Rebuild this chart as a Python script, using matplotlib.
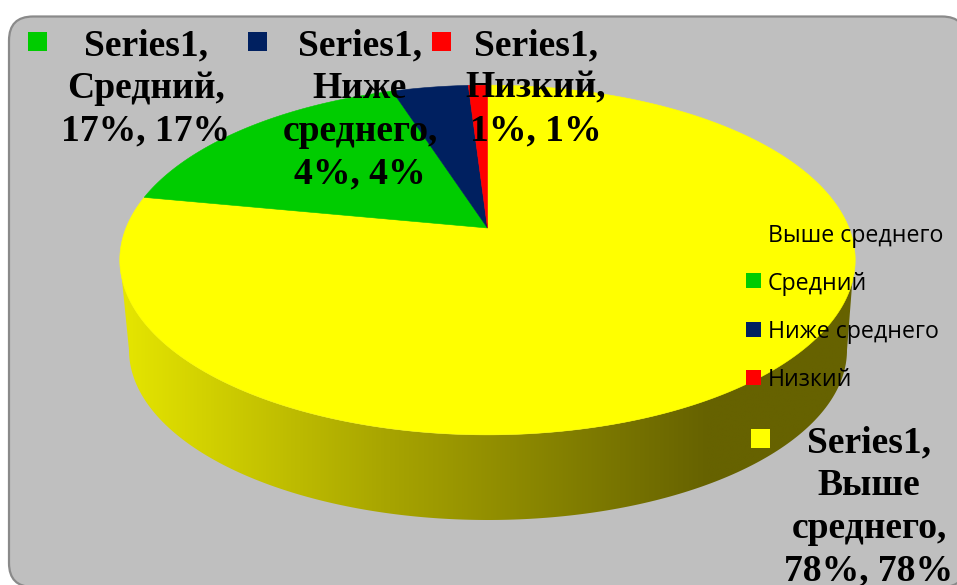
import numpy as np
import matplotlib
matplotlib.use("Agg")
import matplotlib.pyplot as plt
from matplotlib.patches import Polygon, Rectangle, FancyBboxPatch
from matplotlib.colors import LinearSegmentedColormap

categories = ["Выше среднего", "Средний", "Ниже среднего", "Низкий"]
values = [78, 17, 4, 1]
colors = ["#ffff00", "#00cc00", "#002060", "#ff0000"]
series_name = "Series1"
label_lines = [
    ["Series1,", "Выше", "среднего,", "78%, 78%"],
    ["Series1,", "Средний,", "17%, 17%"],
    ["Series1,", "Ниже", "среднего,", "4%, 4%"],
    ["Series1,", "Низкий,", "1%, 1%"],
]
label_pos = [(869, 443), (146, 45.5), (360, 45.5), (536, 45.5)]
label_swatch = [(751, 429), (28, 32), (248, 32), (432, 32)]
legend_swatch_y = [225, 273, 322, 370]

W, H = 957, 585
fig = plt.figure(figsize=(W / 100, H / 100), dpi=100, facecolor="white")
ax = fig.add_axes([0, 0, 1, 1])
ax.set_xlim(0, W)
ax.set_ylim(H, 0)
ax.axis("off")

ax.add_patch(FancyBboxPatch((9, 16.5), 957, 570.5,
                            boxstyle="round,pad=0,rounding_size=24",
                            fc="#bfbfbf", ec="#8a8a8a", lw=1.6, zorder=1))

# Perspective projection of the pie's top face
CX, CY, B, A, K = 487.5, 228.0, 361.5, 169.0, 0.183


def project(theta):
    u, v = np.sin(theta), np.cos(theta)
    d = 1 + K * v
    return CX + B * u / d, CY - A * v / d


# Side wall with horizontal shading
t = np.radians(np.linspace(0, 180, 200))
top_x = 487 + 367 * np.cos(t)
top_y = 260 + 175 * np.sin(t)
bot_x = 488 + 359 * np.cos(t)
bot_y = 350 + 170 * np.sin(t)
side = Polygon(np.column_stack([np.r_[top_x, bot_x[::-1]], np.r_[top_y, bot_y[::-1]]]),
               closed=True, fc="none", ec="none", transform=ax.transData)
ax.add_patch(side)
cmap = LinearSegmentedColormap.from_list(
    "side", [(0, "#e6e600"), (0.36, "#a8a500"), (0.80, "#666200"), (1, "#666200")])
img = ax.imshow(np.linspace(0, 1, 512)[None, :], cmap=cmap, vmin=0, vmax=1,
                extent=(119, 856, 525, 255), aspect="auto", zorder=2,
                interpolation="bilinear")
img.set_clip_path(side)
ax.set_xlim(0, W)
ax.set_ylim(H, 0)

# Top face slices, clockwise from twelve o'clock
cum = np.cumsum([0] + values) / sum(values) * 2 * np.pi
for i, val in enumerate(values):
    th = np.linspace(cum[i], cum[i + 1], max(int(val * 6), 12))
    x, y = project(th)
    ax.add_patch(Polygon(np.column_stack([np.r_[CX, x], np.r_[CY, y]]), closed=True,
                         fc=colors[i], ec=colors[i], lw=0.4, zorder=3))

# Legend
for name, col, y in zip(categories, colors, legend_swatch_y):
    ax.add_patch(Rectangle((746, y), 15, 15, fc=col, ec="none", zorder=5))
    ax.text(768, y + 10.5, name, family="Open Sans", fontsize=16.7, color="black",
            ha="left", va="center", zorder=6)

# Data labels
for lines, (lx, ly), (sx, sy), col in zip(label_lines, label_pos, label_swatch, colors):
    ax.add_patch(Rectangle((sx, sy), 19, 19, fc=col, ec="none", zorder=5))
    for j, line in enumerate(lines):
        ax.text(lx, ly + j * 42.8, line, family="Liberation Serif", weight="bold",
                fontsize=27.1, color="black", ha="center", va="center", zorder=6)

fig.savefig("out.png", dpi=100, facecolor="white")
